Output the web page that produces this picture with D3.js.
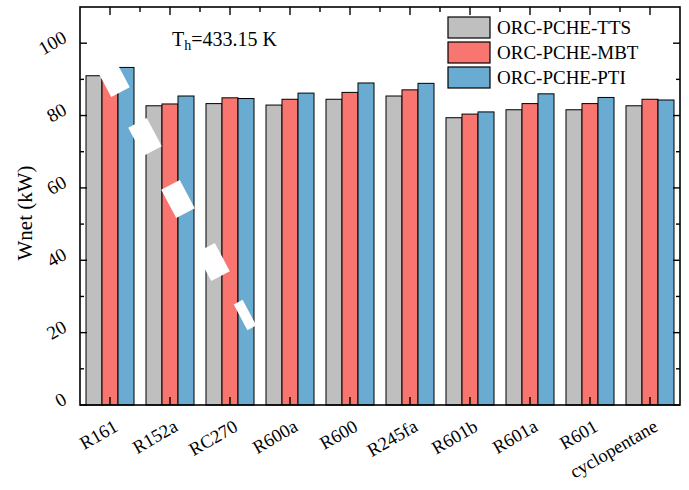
<!DOCTYPE html>
<html>
<head>
<meta charset="utf-8">
<script src="https://cdn.jsdelivr.net/npm/d3@7"></script>
<style>
  body { margin: 0; background: #fff; }
  text { font-family: "Liberation Serif", "Times New Roman", serif; fill: #000; }
</style>
</head>
<body>
<div id="chart"></div>
<script>
// data
const fluids = ["R161", "R152a", "RC270", "R600a", "R600", "R245fa", "R601b", "R601a", "R601", "cyclopentane"]
const seriesNames = ["ORC-PCHE-TTS", "ORC-PCHE-MBT", "ORC-PCHE-PTI"]
const tts = [91.0, 82.7, 83.3, 82.9, 84.5, 85.4, 79.4, 81.6, 81.6, 82.7]
const mbt = [90.0, 83.2, 84.9, 84.5, 86.4, 87.1, 80.4, 83.3, 83.3, 84.5]
const pti = [93.3, 85.4, 84.7, 86.2, 89.0, 88.9, 81.0, 86.0, 85.0, 84.3]
const yTicks = [0, 20, 40, 60, 80, 100]
const colors = ["#bfbfbf", "#f8766f", "#6aabd2"]

const values = [tts, mbt, pti]
const rows = fluids.map((f, i) => ({ fluid: f, vals: values.map(s => s[i]) }))

// 1. dimensions
let dimensions = {
  width: 689,
  height: 490,
  margin: { top: 7, right: 9, bottom: 85, left: 80 },
}
dimensions.boundedWidth = dimensions.width - dimensions.margin.left - dimensions.margin.right
dimensions.boundedHeight = dimensions.height - dimensions.margin.top - dimensions.margin.bottom

// 2. canvas
const wrapper = d3.select("#chart")
  .append("svg")
    .attr("width", dimensions.width)
    .attr("height", dimensions.height)

const bounds = wrapper.append("g")
  .attr("transform", `translate(${dimensions.margin.left},${dimensions.margin.top})`)

// 3. scales
const xScale = d3.scaleBand()
  .domain(fluids)
  .range([0, dimensions.boundedWidth])
  .paddingInner(0.2)
  .paddingOuter(0.1)

const xSub = d3.scaleBand()
  .domain(d3.range(seriesNames.length))
  .range([0, xScale.bandwidth()])

const yScale = d3.scaleLinear()
  .domain([0, 110])
  .range([dimensions.boundedHeight, 0])

// 4. bars
const groups = bounds.selectAll("g.grp")
  .data(rows)
  .join("g")
    .attr("class", "grp")
    .attr("transform", d => `translate(${xScale(d.fluid)},0)`)

groups.selectAll("rect")
  .data(d => d.vals)
  .join("rect")
    .attr("x", (v, i) => xSub(i))
    .attr("y", v => yScale(v))
    .attr("width", xSub.bandwidth())
    .attr("height", v => yScale(0) - yScale(v))
    .attr("fill", (v, i) => colors[i])
    .attr("stroke", "#000")
    .attr("stroke-width", 1)

// 5. axes
const step = xScale.step()
const centers = fluids.map(f => xScale(f) + xScale.bandwidth() / 2)
const minorX = centers.map(c => c + step / 2).slice(0, -1)

// box
bounds.append("rect")
  .attr("width", dimensions.boundedWidth)
  .attr("height", dimensions.boundedHeight)
  .attr("fill", "none")
  .attr("stroke", "#000")
  .attr("stroke-width", 1.6)

// left and right ticks (major every 20, minor every 10)
const yMinor = d3.range(10, 110, 20)
const tickG = bounds.append("g").attr("stroke", "#000").attr("stroke-width", 1.4)
yTicks.forEach(t => {
  tickG.append("line").attr("x1", 0).attr("x2", 7).attr("y1", yScale(t)).attr("y2", yScale(t))
  tickG.append("line").attr("x1", dimensions.boundedWidth).attr("x2", dimensions.boundedWidth - 7)
    .attr("y1", yScale(t)).attr("y2", yScale(t))
})
yMinor.forEach(t => {
  tickG.append("line").attr("x1", 0).attr("x2", 4).attr("y1", yScale(t)).attr("y2", yScale(t))
  tickG.append("line").attr("x1", dimensions.boundedWidth).attr("x2", dimensions.boundedWidth - 4)
    .attr("y1", yScale(t)).attr("y2", yScale(t))
})
// top and bottom ticks
centers.forEach(c => {
  tickG.append("line").attr("x1", c).attr("x2", c).attr("y1", 0).attr("y2", 8)
  tickG.append("line").attr("x1", c).attr("x2", c)
    .attr("y1", dimensions.boundedHeight).attr("y2", dimensions.boundedHeight - 8)
})
minorX.forEach(c => {
  tickG.append("line").attr("x1", c).attr("x2", c).attr("y1", 0).attr("y2", 5)
})

// y tick labels, slanted
bounds.selectAll("text.ytick")
  .data(yTicks)
  .join("text")
    .attr("class", "ytick")
    .attr("text-anchor", "end")
    .attr("font-size", 19)
    .attr("transform", t => `translate(-12,${yScale(t) - 2}) rotate(-30)`)
    .text(t => t)

// x labels, slanted
bounds.selectAll("text.xtick")
  .data(fluids)
  .join("text")
    .attr("class", "xtick")
    .attr("text-anchor", "end")
    .attr("font-size", 18.5)
    .attr("transform", f => `translate(${xScale(f) + xScale.bandwidth() / 2 + 9},${dimensions.boundedHeight + 25}) rotate(-30)`)
    .text(f => f)

// y title
bounds.append("text")
  .attr("text-anchor", "middle")
  .attr("font-size", 21)
  .attr("transform", `translate(-48,${yScale(55) + 7}) rotate(-90)`)
  .text("Wnet (kW)")

// annotation
const ann = bounds.append("text")
  .attr("x", 92)
  .attr("y", 39)
  .attr("font-size", 20)
ann.append("tspan").text("T")
ann.append("tspan").attr("font-size", 14).attr("dy", 4).text("h")
ann.append("tspan").attr("dy", -4).text("=433.15 K")

// legend
const legend = bounds.append("g").attr("transform", "translate(368,10)")
seriesNames.forEach((s, i) => {
  const row = legend.append("g").attr("transform", `translate(0,${i * 25})`)
  row.append("rect")
    .attr("width", 42).attr("height", 21)
    .attr("fill", colors[i]).attr("stroke", "#000").attr("stroke-width", 1.2)
  row.append("text")
    .attr("x", 49).attr("y", 17)
    .attr("font-size", 19)
    .text(s)
})

// white smudges that sit over the first bars in the figure
const smudges = [[113, 78, 21, 32], [145, 137, 21, 32], [178, 199, 21, 32], [213, 262, 21, 32], [245, 315, 10, 29]]
wrapper.append("g").selectAll("rect")
  .data(smudges)
  .join("rect")
    .attr("x", d => -d[2] / 2)
    .attr("y", d => -d[3] / 2)
    .attr("width", d => d[2])
    .attr("height", d => d[3])
    .attr("fill", "#fff")
    .attr("transform", d => `translate(${d[0]},${d[1]}) rotate(-28)`)
</script>
</body>
</html>
